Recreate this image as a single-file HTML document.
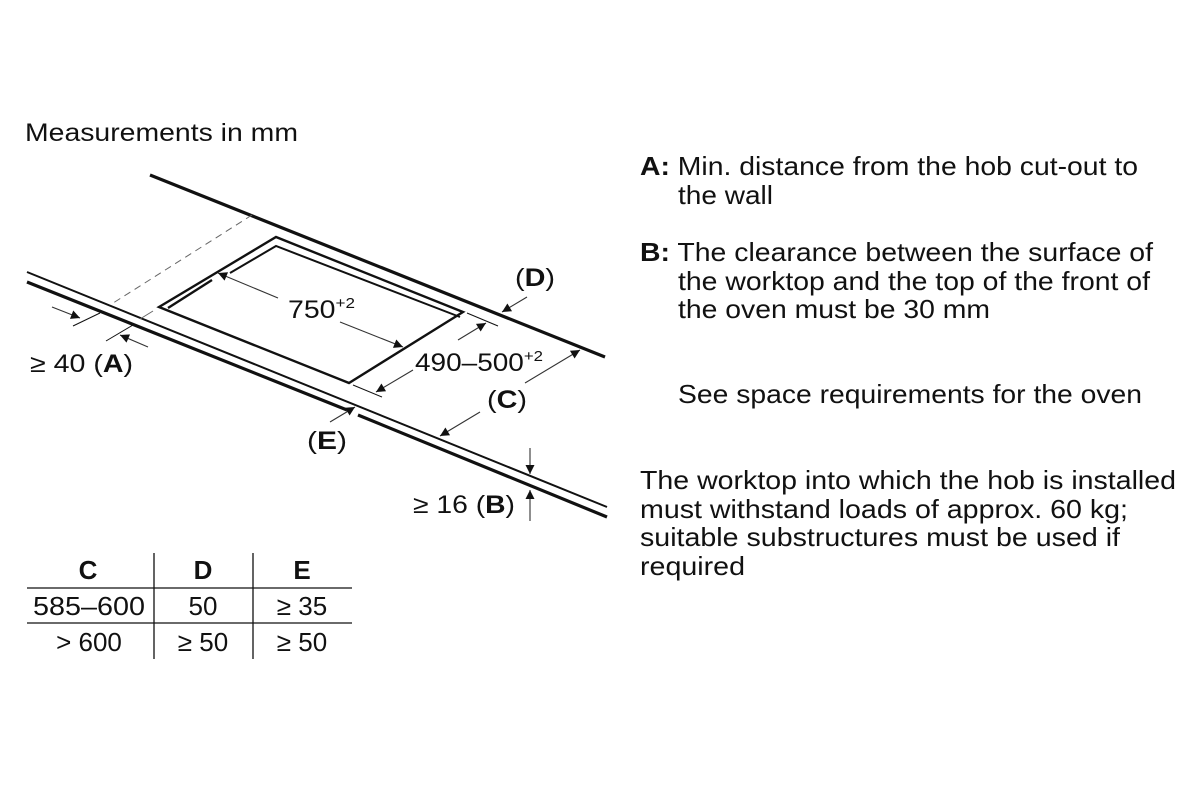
<!DOCTYPE html>
<html><head><meta charset="utf-8"><style>
html,body{margin:0;padding:0;background:#fff;}
body{width:1200px;height:800px;overflow:hidden;position:relative;font-family:"Liberation Sans",Arial,sans-serif;color:#111;}
svg{position:absolute;left:0;top:0;}
</style></head><body>
<svg width="1200" height="800" viewBox="0 0 1200 800" font-family="Liberation Sans, Arial, sans-serif" fill="#111">
<defs>
<marker id="ar" viewBox="0 0 10 10" refX="10" refY="5" markerWidth="13" markerHeight="9" markerUnits="userSpaceOnUse" orient="auto"><path d="M0,0 L10,5 L0,10 z" fill="#111"/></marker>
</defs>
<text x="25" y="141" font-size="25" textLength="273" lengthAdjust="spacingAndGlyphs">Measurements in mm</text>
<g stroke="#111" fill="none">
<line x1="150" y1="175" x2="605" y2="357" stroke-width="3.2"/>
<line x1="27" y1="272" x2="607" y2="507" stroke-width="2"/>
<line x1="27" y1="282" x2="347" y2="410" stroke-width="3.2"/>
<line x1="358" y1="415" x2="607" y2="517" stroke-width="3.2"/>
<line x1="252" y1="215" x2="110" y2="305" stroke-width="1" stroke-dasharray="7,5" stroke="#666"/>
<line x1="153" y1="311" x2="140" y2="319" stroke-width="1" stroke="#666"/>
<polygon points="159,307 276,237 463,312 349,383" stroke-width="2.4"/>
<polyline points="168,308 212,280" stroke-width="2.4"/>
<polyline points="230,273 276,246 460,317" stroke-width="2"/>
<line x1="73" y1="326" x2="100" y2="313" stroke-width="1"/>
<line x1="106" y1="341" x2="133" y2="325" stroke-width="1"/>
<line x1="467" y1="313" x2="498" y2="326" stroke-width="1"/>
<line x1="353" y1="385" x2="382" y2="397" stroke-width="1"/>
</g>
<g stroke="#333" stroke-width="1.1" fill="none" marker-end="url(#ar)">
<line x1="52" y1="307" x2="80" y2="318"/>
<line x1="148" y1="347" x2="120" y2="335"/>
<line x1="278" y1="298" x2="218" y2="273"/>
<line x1="340" y1="322" x2="403" y2="347"/>
<line x1="458" y1="340" x2="486" y2="323"/>
<line x1="413" y1="370" x2="376" y2="392"/>
<line x1="527" y1="297" x2="502" y2="312"/>
<line x1="525" y1="383" x2="580" y2="350"/>
<line x1="480" y1="412" x2="440" y2="436"/>
<line x1="330" y1="422" x2="355" y2="407"/>
<line x1="530" y1="448" x2="530" y2="474"/>
<line x1="530" y1="521" x2="530" y2="490"/>
</g>
<g font-size="25">
<text x="288" y="318" textLength="67" lengthAdjust="spacingAndGlyphs">750<tspan font-size="15" dy="-10">+2</tspan></text>
<text x="415" y="371" textLength="128" lengthAdjust="spacingAndGlyphs">490–500<tspan font-size="15" dy="-10">+2</tspan></text>
<text x="515" y="286" textLength="40" lengthAdjust="spacingAndGlyphs">(<tspan font-weight="bold">D</tspan>)</text>
<text x="487" y="408" textLength="40" lengthAdjust="spacingAndGlyphs">(<tspan font-weight="bold">C</tspan>)</text>
<text x="307" y="449" textLength="40" lengthAdjust="spacingAndGlyphs">(<tspan font-weight="bold">E</tspan>)</text>
<text x="30" y="372" textLength="103" lengthAdjust="spacingAndGlyphs">≥ 40 (<tspan font-weight="bold">A</tspan>)</text>
<text x="413" y="513" textLength="102" lengthAdjust="spacingAndGlyphs">≥ 16 (<tspan font-weight="bold">B</tspan>)</text>
</g>
<g stroke="#111" stroke-width="1.3">
<line x1="27" y1="588" x2="352" y2="588"/>
<line x1="27" y1="623" x2="352" y2="623"/>
<line x1="154" y1="553" x2="154" y2="659"/>
<line x1="253" y1="553" x2="253" y2="659"/>
</g>
<g font-size="26" text-anchor="middle">
<text x="88" y="579" font-weight="bold">C</text>
<text x="203" y="579" font-weight="bold">D</text>
<text x="302" y="579" font-weight="bold">E</text>
<text x="89" y="615" textLength="112" lengthAdjust="spacingAndGlyphs">585–600</text>
<text x="203" y="615">50</text>
<text x="302" y="615">≥ 35</text>
<text x="89" y="651">&gt; 600</text>
<text x="203" y="651">≥ 50</text>
<text x="302" y="651">≥ 50</text>
</g>
<g font-size="26" lengthAdjust="spacingAndGlyphs">
<text x="640" y="175" textLength="498" lengthAdjust="spacingAndGlyphs"><tspan font-weight="bold">A:</tspan> Min. distance from the hob cut-out to</text>
<text x="678" y="204" textLength="95" lengthAdjust="spacingAndGlyphs">the wall</text>
<text x="640" y="261" textLength="513" lengthAdjust="spacingAndGlyphs"><tspan font-weight="bold">B:</tspan> The clearance between the surface of</text>
<text x="678" y="290" textLength="472" lengthAdjust="spacingAndGlyphs">the worktop and the top of the front of</text>
<text x="678" y="318" textLength="312" lengthAdjust="spacingAndGlyphs">the oven must be 30 mm</text>
<text x="678" y="403" textLength="464" lengthAdjust="spacingAndGlyphs">See space requirements for the oven</text>
<text x="640" y="489" textLength="536" lengthAdjust="spacingAndGlyphs">The worktop into which the hob is installed</text>
<text x="640" y="518" textLength="488" lengthAdjust="spacingAndGlyphs">must withstand loads of approx. 60 kg;</text>
<text x="640" y="546" textLength="480" lengthAdjust="spacingAndGlyphs">suitable substructures must be used if</text>
<text x="640" y="575" textLength="105" lengthAdjust="spacingAndGlyphs">required</text>
</g>
</svg>
</body></html>
